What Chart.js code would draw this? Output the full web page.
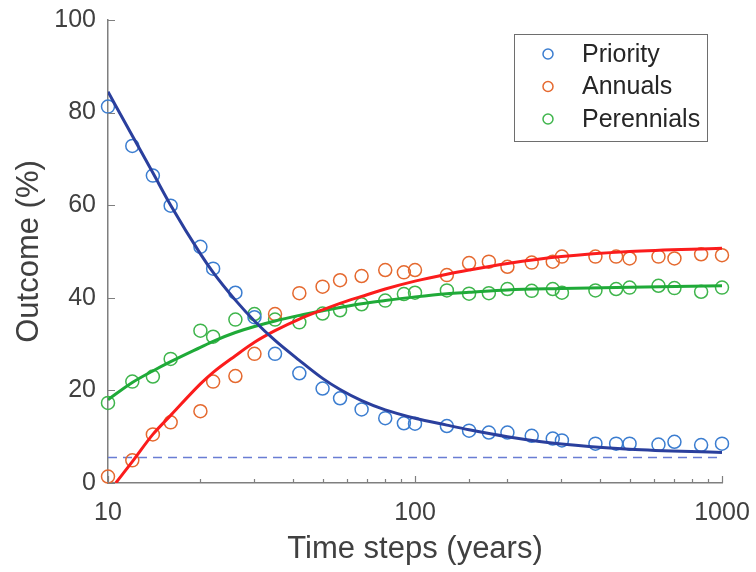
<!DOCTYPE html>
<html>
<head>
<meta charset="utf-8">
<script src="https://cdn.jsdelivr.net/npm/chart.js@4"></script>
<style>
  html, body { margin: 0; padding: 0; background: #fff; }
  #wrap { width: 756px; height: 572px; }
</style>
</head>
<body>
<div id="wrap"><canvas id="outcome"></canvas></div>
<script>
// observed outcomes per time step (years)
var timeSteps = [10, 12, 14, 16, 20, 22, 26, 30, 35, 42, 50, 57, 67, 80, 92, 100,
                 127, 150, 174, 200, 240, 281, 301, 387, 452, 500, 621, 700, 855, 1000];
var priority = [81.3, 72.8, 66.4, 59.9, 51.0, 46.3, 41.1, 35.8, 27.9, 23.7, 20.4, 18.3, 15.9, 14.0, 12.9, 12.8,
                12.3, 11.3, 10.9, 10.9, 10.2, 9.6, 9.2, 8.5, 8.5, 8.5, 8.3, 8.9, 8.2, 8.5];
var annuals = [1.4, 4.9, 10.5, 13.1, 15.5, 21.9, 23.1, 27.9, 36.5, 41.0, 42.4, 43.8, 44.7, 46.0, 45.5, 46.0,
               44.9, 47.5, 47.8, 46.7, 47.6, 47.8, 48.9, 48.9, 48.9, 48.5, 48.9, 48.5, 49.4, 49.2];
var perennials = [17.3, 21.9, 23.0, 26.8, 32.9, 31.6, 35.3, 36.5, 35.3, 34.7, 36.6, 37.3, 38.6, 39.4, 40.8, 41.1,
                  41.6, 40.9, 41.0, 41.9, 41.5, 41.9, 41.1, 41.6, 41.9, 42.2, 42.6, 42.1, 41.3, 42.2];

// fitted curves
var fitX = [10, 12, 14, 16, 20, 22, 26, 30, 35, 42, 50, 57, 67, 80, 100, 127, 150, 200, 300, 500, 1000];
var priorityFit = [84.5, 75.0, 67.0, 60.0, 49.5, 45.5, 39.5, 35.0, 30.8, 26.5, 22.6, 20.2, 17.8, 15.8, 14.0,
                   12.5, 11.5, 10.0, 8.4, 7.3, 6.6];
var perennialsFit = [18.0, 21.7, 24.2, 26.2, 29.3, 30.6, 32.5, 33.8, 35.0, 36.2, 37.2, 37.9, 38.7, 39.4, 40.2,
                     40.9, 41.2, 41.7, 42.0, 42.3, 42.6];
var annualsFitX = [10.6, 12, 14, 16, 20, 22, 26, 30, 35, 42, 50, 57, 67, 80, 100, 127, 150, 200, 300, 500, 1000];
var annualsFit = [0, 4.6, 10.5, 14.6, 21.4, 23.9, 27.5, 30.4, 32.9, 35.4, 37.4, 38.8, 40.3, 41.9, 43.6,
                  45.1, 46.0, 47.4, 48.9, 50.0, 50.7];

var baselineX = [10, 1000];
var baseline = [5.5, 5.5];

var xTicks = [10, 100, 1000];
var yTicks = [0, 20, 40, 60, 80, 100];

var FONT = "'Liberation Sans', Arial, Helvetica, sans-serif";
var TEXT = '#404040';
var AXIS = '#7f7f7f';

function pairs(xs, ys) {
    return xs.map(function (x, i) { return { x: x, y: ys[i] }; });
}

function circles(label, ys, color) {
    return {
        label: label,
        data: pairs(timeSteps, ys),
        showLine: false,
        pointStyle: 'circle',
        pointRadius: 6.5,
        pointBorderWidth: 1.5,
        pointBorderColor: color,
        pointBackgroundColor: 'rgba(0,0,0,0)',
        borderColor: color,
        clip: 10,
        inLegend: true,
        order: 2
    };
}

function fit(xs, ys, color) {
    return {
        data: pairs(xs, ys),
        borderColor: color,
        borderWidth: 3,
        pointRadius: 0,
        cubicInterpolationMode: 'monotone',
        fill: false,
        order: 1
    };
}

// inward tick marks like the original axes
var inwardTicks = {
    id: 'inwardTicks',
    afterDraw: function (chart) {
        var ctx = chart.ctx, a = chart.chartArea;
        var xs = chart.scales.x, ys = chart.scales.y;
        ctx.save();
        ctx.strokeStyle = AXIS;
        ctx.lineWidth = 1.2;
        ctx.beginPath();
        xs.ticks.forEach(function (t) {
            var px = Math.round(xs.getPixelForValue(t.value)) + 0.5;
            var major = xTicks.indexOf(t.value) >= 0;
            ctx.moveTo(px, a.bottom);
            ctx.lineTo(px, a.bottom - (major ? 7 : 4));
        });
        yTicks.forEach(function (v) {
            var py = Math.round(ys.getPixelForValue(v)) + 0.5;
            ctx.moveTo(a.left, py);
            ctx.lineTo(a.left + 7, py);
        });
        ctx.stroke();
        ctx.restore();
    }
};

// legend box in the upper right of the plot
var boxLegend = {
    id: 'boxLegend',
    afterDraw: function (chart) {
        var ctx = chart.ctx, a = chart.chartArea;
        var items = chart.data.datasets.filter(function (d) { return d.inLegend; });
        var right = a.right - 15, top = a.top + 14, w = 193, h = 107;
        var left = right - w;
        ctx.save();
        ctx.fillStyle = '#fff';
        ctx.fillRect(left, top, w, h);
        ctx.strokeStyle = '#6e6e6e';
        ctx.lineWidth = 1;
        ctx.strokeRect(left + 0.5, top + 0.5, w, h);
        ctx.font = '25px ' + FONT;
        ctx.textBaseline = 'middle';
        items.forEach(function (d, i) {
            var cy = top + 20 + i * 32.5;
            ctx.beginPath();
            ctx.arc(left + 34, cy, 5, 0, Math.PI * 2);
            ctx.strokeStyle = d.pointBorderColor;
            ctx.lineWidth = 1.5;
            ctx.stroke();
            ctx.fillStyle = '#262626';
            ctx.fillText(d.label, left + 68, cy + 1);
        });
        ctx.restore();
    }
};

var chart = new Chart(document.getElementById('outcome'), {
    type: 'line',
    data: {
        datasets: [
            circles('Priority', priority, '#3b7dd0'),
            circles('Annuals', annuals, '#e5692f'),
            circles('Perennials', perennials, '#3fb54c'),
            fit(fitX, priorityFit, '#2a3f9d'),
            fit(annualsFitX, annualsFit, '#fb1c1c'),
            fit(fitX, perennialsFit, '#1faa38'),
            {
                data: pairs(baselineX, baseline),
                borderColor: '#6a7dd4',
                borderWidth: 1.4,
                borderDash: [9, 6],
                pointRadius: 0,
                order: 3
            }
        ]
    },
    options: {
        responsive: true,
        maintainAspectRatio: false,
        animation: false,
        layout: { padding: { top: 20, right: 34, left: 0, bottom: 0 } },
        plugins: {
            legend: { display: false },
            tooltip: { enabled: false }
        },
        scales: {
            x: {
                type: 'logarithmic',
                min: 10,
                max: 1000,
                afterFit: function (scale) {
                    scale.height = 89;
                    scale.paddingLeft = 0;
                    scale.paddingRight = 0;
                },
                grid: { display: true, drawOnChartArea: false, drawTicks: false },
                border: { display: true, color: AXIS, width: 1.5 },
                ticks: {
                    autoSkip: false,
                    maxRotation: 0,
                    padding: 15,
                    color: TEXT,
                    font: { family: FONT, size: 25 },
                    callback: function (value) {
                        return xTicks.indexOf(value) >= 0 ? String(value) : '';
                    }
                },
                title: {
                    display: true,
                    text: 'Time steps (years)',
                    color: TEXT,
                    font: { family: FONT, size: 31 },
                    padding: { top: 0, bottom: 4 }
                }
            },
            y: {
                min: 0,
                max: 100,
                afterFit: function (scale) {
                    scale.width = 108;
                    scale.paddingTop = 0;
                    scale.paddingBottom = 0;
                },
                grid: { display: true, drawOnChartArea: false, drawTicks: false },
                border: { display: true, color: AXIS, width: 1.5 },
                ticks: {
                    stepSize: 20,
                    padding: 12,
                    color: TEXT,
                    font: { family: FONT, size: 25 }
                },
                title: {
                    display: true,
                    text: 'Outcome (%)',
                    color: TEXT,
                    font: { family: FONT, size: 31 },
                    padding: { top: 11, bottom: 0 }
                }
            }
        }
    },
    plugins: [inwardTicks, boxLegend]
});
</script>
</body>
</html>
